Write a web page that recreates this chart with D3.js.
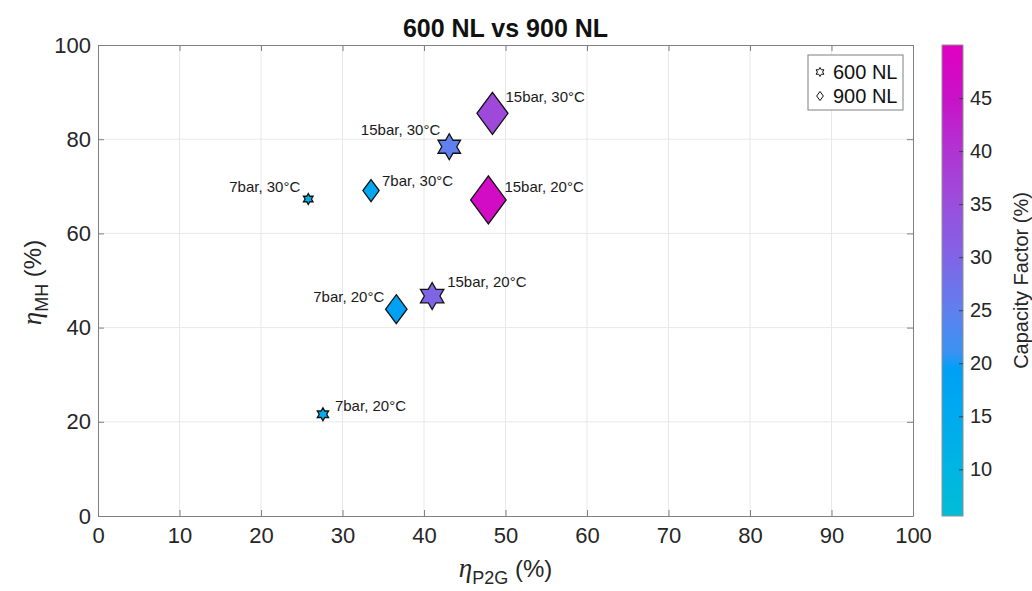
<!DOCTYPE html>
<html lang="en">
<head>
<meta charset="UTF-8">
<title>600 NL vs 900 NL</title>
<script src="https://cdn.jsdelivr.net/npm/d3@7"></script>
<style>
  body { margin: 0; background: #fff; }
  svg { display: block; font-family: "Liberation Sans", Arial, sans-serif; }
  .grid line { stroke: #e8e8e8; stroke-width: 1; }
  .axis path, .axis line { stroke: #808080; }
  .axis text { fill: #262626; font-size: 22px; }
  .cbar-axis path { display: none; }
  .cbar-axis line { stroke: #404040; }
  .cbar-axis text { fill: #262626; font-size: 20px; }
  .pt-label { font-size: 15px; fill: #1a1a1a; }
</style>
</head>
<body>
<svg id="chart"></svg>
<script>
// ---- data ----
const seriesNames = ["600 NL", "900 NL"];
const pointLabels = ["7bar, 30°C", "15bar, 30°C", "15bar, 20°C", "7bar, 20°C"];

const etaP2G600 = [25.8, 43.1, 41.0, 27.6];
const etaMH600  = [67.3, 78.4, 46.7, 21.6];
const capFactor600 = [13, 25, 30, 14];
const markerArea600 = [121, 676, 729, 169];

const etaP2G900 = [33.5, 48.4, 47.9, 36.6];
const etaMH900  = [69.1, 85.5, 67.1, 43.9];
const capFactor900 = [16, 36, 47, 19];
const markerArea900 = [484, 1764, 2304, 841];

const xTicks = [0, 10, 20, 30, 40, 50, 60, 70, 80, 90, 100];
const yTicks = [0, 20, 40, 60, 80, 100];
const cbarTicks = [10, 15, 20, 25, 30, 35, 40, 45];
const cbarDomain = [5.6, 50];

// colormap stops (value -> colour)
const cmapValues = [5.6, 10, 15, 19.5, 21, 25, 30, 35, 40, 45, 50];
const cmapColors = ["#00bdd6", "#00b5e2", "#00aaee", "#00a0f5", "#3a92f2", "#5f80ee",
                    "#8064e6", "#9a4edc", "#b134d2", "#c812c8", "#e000c0"];

// label placement: pixel offset from the marker centre (negative dx = right-aligned text)
const labelDx600 = [-8, -9, 15, 12];
const labelDy600 = [-7, -12, -9, -3];
const labelDx900 = [11, 13, 16, -12];
const labelDy900 = [-5, -11, -8, -7];

// ---- layout ----
const W = 1032, H = 591;
const plot = { left: 98, right: 913, top: 45, bottom: 516 };
const cbar = { x: 942, w: 21 };

const svg = d3.select("#chart").attr("width", W).attr("height", H);

const x = d3.scaleLinear().domain([0, 100]).range([plot.left, plot.right]);
const y = d3.scaleLinear().domain([0, 100]).range([plot.bottom, plot.top]);
const color = d3.scaleLinear().domain(cmapValues).range(cmapColors).clamp(true);
const size = d3.scaleSqrt().domain([0, 2500]).range([0, 50]);
const cy = d3.scaleLinear().domain(cbarDomain).range([plot.bottom, plot.top]);

// grid
const grid = svg.append("g").attr("class", "grid");
grid.selectAll(".gx").data(xTicks.slice(1, -1)).enter().append("line")
  .attr("x1", d => x(d)).attr("x2", d => x(d))
  .attr("y1", plot.top).attr("y2", plot.bottom);
grid.selectAll(".gy").data(yTicks.slice(1, -1)).enter().append("line")
  .attr("y1", d => y(d)).attr("y2", d => y(d))
  .attr("x1", plot.left).attr("x2", plot.right);

// axes (ticks pointing inward, matlab style)
svg.append("g").attr("class", "axis")
  .attr("transform", `translate(0,${plot.bottom})`)
  .call(d3.axisBottom(x).tickValues(xTicks).tickSizeInner(-6).tickSizeOuter(0).tickPadding(11));
svg.append("g").attr("class", "axis")
  .attr("transform", `translate(${plot.left},0)`)
  .call(d3.axisLeft(y).tickValues(yTicks).tickSizeInner(-6).tickSizeOuter(0).tickPadding(7));
svg.append("g").attr("class", "axis")
  .attr("transform", `translate(0,${plot.top})`)
  .call(d3.axisTop(x).tickValues(xTicks).tickSizeInner(-6).tickSizeOuter(0).tickFormat(""));
svg.append("g").attr("class", "axis")
  .attr("transform", `translate(${plot.right},0)`)
  .call(d3.axisRight(y).tickValues(yTicks).tickSizeInner(-6).tickSizeOuter(0).tickFormat(""));

// marker shapes
function hexagram(s) {
  const R = s / 2, r = R / Math.sqrt(3);
  const pts = [];
  for (let i = 0; i < 12; i++) {
    const a = -Math.PI / 2 + i * Math.PI / 6;
    const rad = i % 2 === 0 ? R : r;
    pts.push([rad * Math.cos(a), rad * Math.sin(a)]);
  }
  return "M" + pts.map(p => p.join(",")).join("L") + "Z";
}
function diamond(s) {
  const h = s / 2, w = s * 0.37;
  return `M0,${-h}L${w},0L0,${h}L${-w},0Z`;
}

function drawSeries(xs, ys, cf, area, ldx, ldy, shape) {
  const pts = xs.map((v, i) => ({ x: v, y: ys[i], cf: cf[i], s: size(area[i]),
    label: pointLabels[i], dx: ldx[i], dy: ldy[i] }));
  const g = svg.append("g");
  g.selectAll("path").data(pts).enter().append("path")
    .attr("d", d => shape(d.s))
    .attr("transform", d => `translate(${x(d.x)},${y(d.y)})`)
    .attr("fill", d => color(d.cf))
    .attr("stroke", "#111")
    .attr("stroke-width", 1.3);
  g.selectAll("text").data(pts).enter().append("text")
    .attr("class", "pt-label")
    .attr("x", d => x(d.x) + d.dx)
    .attr("y", d => y(d.y) + d.dy)
    .attr("text-anchor", d => d.dx >= 0 ? "start" : "end")
    .text(d => d.label);
}

drawSeries(etaP2G600, etaMH600, capFactor600, markerArea600, labelDx600, labelDy600, hexagram);
drawSeries(etaP2G900, etaMH900, capFactor900, markerArea900, labelDx900, labelDy900, diamond);

// title
svg.append("text")
  .attr("x", (plot.left + plot.right) / 2).attr("y", 37)
  .attr("text-anchor", "middle")
  .attr("font-weight", "bold").attr("font-size", 25).attr("fill", "#111")
  .text("600 NL vs 900 NL");

// axis labels
const xl = svg.append("text")
  .attr("x", (plot.left + plot.right) / 2).attr("y", 577)
  .attr("text-anchor", "middle").attr("fill", "#262626");
xl.append("tspan").attr("font-family", "'Liberation Serif', serif").attr("font-style", "italic").attr("font-size", 27).text("η");
xl.append("tspan").attr("font-size", 18).attr("dy", 7).text("P2G");
xl.append("tspan").attr("font-size", 24).attr("dy", -7).text(" (%)");

const yl = svg.append("text")
  .attr("transform", `translate(41,${(plot.top + plot.bottom) / 2 + 2}) rotate(-90)`)
  .attr("text-anchor", "middle").attr("fill", "#262626");
yl.append("tspan").attr("font-family", "'Liberation Serif', serif").attr("font-style", "italic").attr("font-size", 27).text("η");
yl.append("tspan").attr("font-size", 18).attr("dy", 7).text("MH");
yl.append("tspan").attr("font-size", 24).attr("dy", -7).text(" (%)");

// legend
const leg = svg.append("g").attr("transform", "translate(808,55)");
leg.append("rect").attr("width", 95).attr("height", 55)
  .attr("fill", "#fff").attr("stroke", "#808080").attr("stroke-width", 1);
const legShapes = [hexagram, diamond];
seriesNames.forEach((name, i) => {
  const ly = 17 + i * 24;
  leg.append("path").attr("d", legShapes[i](9))
    .attr("transform", `translate(12,${ly})`)
    .attr("fill", "#fff").attr("stroke", "#111").attr("stroke-width", 1);
  leg.append("text").attr("x", 25).attr("y", ly + 7)
    .attr("font-size", 20).attr("fill", "#111").text(name);
});

// colorbar
const defs = svg.append("defs");
const grad = defs.append("linearGradient").attr("id", "cmap")
  .attr("x1", 0).attr("y1", 1).attr("x2", 0).attr("y2", 0);
cmapValues.forEach((v, i) => {
  grad.append("stop")
    .attr("offset", (v - cbarDomain[0]) / (cbarDomain[1] - cbarDomain[0]))
    .attr("stop-color", cmapColors[i]);
});
svg.append("rect")
  .attr("x", cbar.x).attr("y", plot.top)
  .attr("width", cbar.w).attr("height", plot.bottom - plot.top)
  .attr("fill", "url(#cmap)").attr("stroke", "#909090").attr("stroke-width", 1);
svg.append("g").attr("class", "cbar-axis")
  .attr("transform", `translate(${cbar.x + cbar.w},0)`)
  .call(d3.axisRight(cy).tickValues(cbarTicks).tickSizeInner(-4).tickSizeOuter(0).tickPadding(7));
svg.append("text")
  .attr("transform", `translate(1028,${(plot.top + plot.bottom) / 2}) rotate(-90)`)
  .attr("text-anchor", "middle").attr("font-size", 20).attr("fill", "#262626")
  .text("Capacity Factor (%)");
</script>
</body>
</html>
